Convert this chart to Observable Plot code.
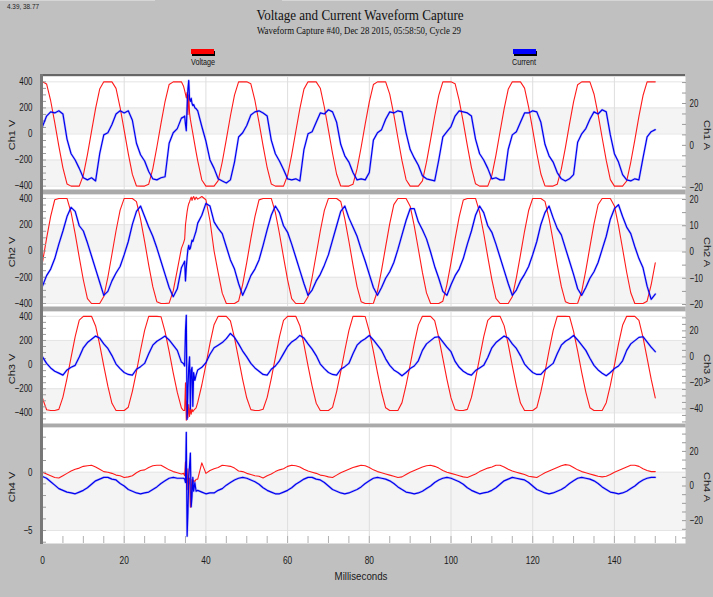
<!DOCTYPE html>
<html><head><meta charset="utf-8">
<script src="https://cdn.jsdelivr.net/npm/d3@7"></script>
<script src="https://cdn.jsdelivr.net/npm/@observablehq/plot@0.6"></script>
<style>
html,body{margin:0;padding:0;}
body{width:713px;height:597px;background:#c0c0c0;position:relative;overflow:hidden;font-family:"Liberation Sans",Arial,sans-serif;}
.abs{position:absolute;}
.txt{position:absolute;white-space:nowrap;line-height:1;}
svg{position:absolute;left:0;top:0;}
</style></head><body>
<script>
// ---------------- data ----------------
const ms = [0,1,2,3,4,5,6,7,8,9,10,11,12,13,14,15,16,17,18,19,20,21,22,23,24,25,26,27,28,29,30,31,32,33,34,35,36,37,38,39,40,41,42,43,44,45,46,47,48,49,50,51,52,53,54,55,56,57,58,59,60,61,62,63,64,65,66,67,68,69,70,71,72,73,74,75,76,77,78,79,80,81,82,83,84,85,86,87,88,89,90,91,92,93,94,95,96,97,98,99,100,101,102,103,104,105,106,107,108,109,110,111,112,113,114,115,116,117,118,119,120,121,122,123,124,125,126,127,128,129,130,131,132,133,134,135,136,137,138,139,140,141,142,143,144,145,146,147,148,149,150];
const burstMs = [34.5,34.8,35,35.2,35.4,35.6,35.8,36,36.2,36.4,36.6,36.8,37,37.3,37.6];

const v1 = [400,384,255,87,-93,-260,-383,-400,-400,-400,
-316,-158,20,197,345,400,400,400,350,203,
28,-151,-310,-399,-400,-400,-385,-267,-100,80,
249,380,400,400,400,305,147,-32,-206,-353,
-400,-400,-400,-358,-215,-42,138,298,400,400,
400,385,257,89,-92,-259,-383,-400,-400,-400,
-317,-160,19,195,344,400,400,400,351,205,
29,-150,-309,-399,-400,-400,-386,-268,-102,78,
247,379,400,400,400,306,148,-31,-205,-351,
-400,-400,-400,-360,-216,-44,136,296,400,400,
400,386,258,91,-90,-258,-382,-400,-400,-400,
-318,-162,17,193,343,400,400,400,352,206,
31,-148,-307,-398,-400,-400,-386,-270,-104,76,
246,378,400,400,400,307,150,-29,-203,-350,
-400,-400,-400,-361,-217,-45,135,295,400,400,
400];
const v1Burst = [369,333,305,277,320,150,300,160,112,76,40,4,-32,-86,-139];

const i1 = [9,14,16,15.5,16.5,15,3,-4,-7,-11,
-15.5,-16.5,-15.5,-17,-4,5,6,10,15,16.5,
15.5,16.5,12,1,-4.5,-7.5,-12.5,-16,-16.5,-15.5,
-15,1,6,8,13,9,22,19.5,16.5,9,
2,-7,-11,-16,-17,-18,-16.5,-8,4,6,
9.5,14.5,16,16.5,15.5,14,2.5,-4,-7.5,-11.5,
-16,-16.5,-16,-17,-2,5.5,6.5,11,15.5,15,
17,16,11,0.5,-5,-8,-13,-16.5,-16,-16.5,
-13,2.5,6,7.5,12.5,16,15.5,16.5,16,6,
-2,-6,-9.5,-14.5,-16,-16.5,-17,-7,4,6.5,
9,14,16.5,16,15.5,14,3,-4,-7,-11,
-16,-15.5,-16.5,-16.5,-2,5,6.5,11,15.5,15.5,
16.5,16,11,0.5,-5,-8,-13,-16,-17,-16,
-14,1.5,5.5,8,12.5,16,15,17,16,5,
-4,-8,-14,-16.5,-17,-16,-16.5,-6,4,6.5,
7.5];
const i1Burst = [13.5,14,10,7,19,27,31,22,21,22.5,20,19,19.5,18,17.5];

const v2 = [-85,96,263,390,400,400,400,293,131,-49,
-221,-363,-400,-400,-400,-347,-200,-25,154,311,
400,400,400,376,243,73,-107,-272,-387,-400,
-400,-397,-304,-144,20,200,375,415,395,415,
390,230,0,-165,-321,-400,-400,-400,-381,-254,
-86,94,262,389,400,400,400,294,133,-47,
-220,-362,-400,-400,-400,-348,-202,-27,152,309,
400,400,400,377,244,74,-106,-271,-386,-400,
-400,-398,-305,-146,33,208,353,400,400,400,
341,191,15,-163,-319,-400,-400,-400,-382,-256,
-88,92,260,388,400,400,400,296,135,-45,
-218,-361,-400,-400,-400,-349,-203,-29,150,308,
400,400,400,378,246,76,-104,-270,-386,-400,
-400,-398,-307,-148,31,206,352,400,400,400,
343,193,17,-162,-318,-400,-400,-400,-382,-257,
-90];
const v2Burst = [60,90,200,250,300,335,360,375,395,410,385,405,415,390,410];

const i2 = [-13,-9,-6.5,-2.5,3,8,13.5,17,15.5,10,
8,3.5,-1.5,-6.5,-11.5,-16.5,-15,-11,-8,-5.5,
-1,4,10.5,15.5,17.5,13.5,9.5,6,1.5,-3.5,
-8.5,-13.5,-17,-14,-6,-11,1,5,11,14,
18.5,17.5,11.5,9,7,2,-3,-6.5,-12,-16.5,
-13,-9,-6.5,-3,2.5,8.5,14,17.5,15,10,
7.5,3,-2,-7,-12,-16.5,-14.5,-11,-8.5,-5,
-1,4.5,10,15.5,17.5,13,9.5,6,1,-3.5,
-8.5,-13.5,-16.5,-13.5,-10,-7.5,-4,1,6.5,12,
16.5,16.5,11.5,8.5,5,0,-5.5,-10,-15,-16.5,
-12.5,-9,-6.5,-2.5,3,8,14,17.5,15,10,
7.5,3,-2,-7,-12,-16.5,-14.5,-11,-8.5,-5.5,
-1,4,10.5,15,17.5,13,9,6.5,1.5,-3.5,
-8.5,-14,-16.5,-13.5,-10,-7.5,-4,1,6,12.5,
16.5,18,13.5,9.5,7,2,-2.5,-6,-13,-18,
-16];
const i2Burst = [-4.5,-3.5,-11,-6,-2,1,2.5,1,1.5,3,4.5,4,5,6.5,8];

const v3 = [-278,-374,-380,-380,-371,-269,-114,60,232,369,
400,400,400,320,166,-11,-179,-321,-380,-380,
-380,-353,-221,-58,119,284,400,400,400,397,
274,109,-69,-231,-358,-150,-430,-380,-313,-169,
-1,176,331,400,400,400,362,222,49,-124,
-277,-373,-380,-380,-370,-271,-116,58,230,367,
400,400,400,322,167,-10,-178,-320,-380,-380,
-380,-354,-223,-60,117,282,400,400,400,398,
276,110,-67,-229,-358,-380,-380,-380,-315,-171,
-3,174,327,400,400,400,364,224,51,-122,
-276,-373,-380,-380,-371,-272,-117,56,229,367,
400,400,400,323,169,-9,-176,-319,-380,-380,
-380,-356,-224,-62,116,281,400,400,400,399,
276,112,-66,-228,-357,-380,-380,-380,-316,-173,
-5,172,326,400,400,400,366,226,53,-121,
-276];
const v3Burst = [-380,-380,-150,-460,-300,-440,-330,-430,-360,-410,-370,-390,-380,-369,-359];

const i3 = [0,-5,-8.5,-11,-12.5,-14,-10,-8,-6.5,0,
7,11,13.5,16,14.5,10,6.5,1,-5.5,-9,
-12,-13.5,-14,-9.5,-7.5,-5,2.5,9,12,14,
16,13,9,5,-4,20,0,-12,-10,-8,
-4.5,2,7,9,11,14,18,15,10,4.5,
0,-5,-8.5,-11,-13.5,-14,-9.5,-7,-3,2.5,
8,11.5,13.5,16.5,14.5,10,6,1,-5.5,-9,
-12,-13.5,-14,-9.5,-7.5,-5,2.5,9,12,14,
16.5,13,9,5,-1.5,-6.5,-10,-12,-14.5,-12,
-9,-7,-3,5,10,12.5,15,15.5,11.5,7.5,
4,-3.5,-8,-11,-13,-14,-10.5,-8.5,-6.5,-0.5,
7,11,13.5,16,14.5,10,6.5,1,-5.5,-9,
-12,-13.5,-13.5,-10,-7.5,-5,2.5,9,12,14,
16.5,13,9,5,-1,-6.5,-10,-12.5,-14.5,-12,
-9,-7,-3,5,10,12.5,15,15.5,11.5,7.5,
4];
const i3Burst = [-5,-7,20,32,-48,-25,-8,0,-40,-10,-8,-38,-12,-18,-14];

const v4 = [0,-0.15,-0.3,-0.45,-0.5,-0.3,-0.1,0.1,0.25,0.35,
0.5,0.55,0.6,0.45,0.25,0.05,0,-0.1,-0.25,-0.3,
-0.45,-0.4,-0.3,-0.05,0.15,0.2,0.4,0.55,0.6,0.6,
0.4,0.2,0.05,-0.05,-0.15,0.9,-0.5,-0.7,-0.6,0.8,
-0.1,0.15,0.3,0.4,0.6,0.55,0.5,0.35,0.1,0.05,
-0.1,-0.2,-0.3,-0.35,-0.5,-0.3,-0.15,0.05,0.2,0.3,
0.5,0.6,0.55,0.45,0.25,0.1,0,-0.1,-0.25,-0.3,
-0.4,-0.45,-0.25,-0.05,0.1,0.25,0.4,0.5,0.6,0.55,
0.4,0.2,0.05,-0.05,-0.15,-0.25,-0.35,-0.45,-0.4,-0.2,
0,0.15,0.3,0.45,0.55,0.6,0.5,0.35,0.15,0,
-0.1,-0.2,-0.3,-0.4,-0.45,-0.3,-0.15,0.05,0.2,0.35,
0.45,0.6,0.6,0.45,0.25,0.1,0,-0.1,-0.2,-0.35,
-0.4,-0.45,-0.25,-0.05,0.1,0.25,0.4,0.55,0.65,0.6,
0.4,0.2,0.05,-0.05,-0.15,-0.25,-0.35,-0.4,-0.35,-0.2,
0,0.15,0.3,0.45,0.6,0.6,0.5,0.3,0.15,0.05,
0.05];
const v4Burst = [-0.1,-0.3,0.9,-0.5,-1.5,0.3,-1.0,-0.5,-3.0,-1.5,-0.6,-0.9,-0.7,-0.8,-0.6];

const i4 = [5.5,4.5,2.5,0.5,-1.5,-2.5,-3.5,-4,-4.5,-3.5,
-2.5,-1,1,3,4,5,5,4,3.5,1.5,
0,-2,-3,-4,-4.5,-4,-3.5,-2,-0.5,1.5,
3,4.5,5,4.5,4.5,2,12,-3,-2.5,-3.5,
-4.5,-4,-4,-2.5,-1.5,0.5,2,3.5,4.5,5,
4.5,3.5,2.5,1,-1,-2.5,-3.5,-4.5,-4.5,-3.5,
-2.5,-1,1,2.5,4,5,5,4,3.5,2,
0,-2,-3,-4,-4.5,-4,-3,-2,-0.5,1.5,
3,4.5,5,4.5,4,3,1.5,-0.5,-2,-3.5,
-4,-4.5,-4,-3,-1.5,0,2,3.5,4.5,5,
4.5,3.5,2.5,1,-1,-2.5,-3.5,-4.5,-4,-3.5,
-2.5,-1,1,3,4,5,4.5,4,3.5,2,
0,-2,-3,-4,-4.5,-4,-3,-2,-0.5,1.5,
3,4.5,5,4.5,4,3,1.5,-0.5,-2,-3.5,
-4,-4.5,-4,-3,-1.5,0,2,3.5,4.5,5,
5];
const i4Burst = [4.5,4,2,31,-29,-15,5,12,19,-12,-6,5,-3,2,-3];

// tick labels
const voltTicks = [-400,-200,0,200,400];
const ch1AmpTicks = [-20,0,20];
const ch2AmpTicks = [-20,-10,0,10,20];
const ch3AmpTicks = [-40,-20,0,20];
const ch4VoltTicks = [-5,0];
const ch4AmpTicks = [-20,0,20];
const msTicks = [0,20,40,60,80,100,120,140];

const titleText = "Voltage and Current Waveform Capture";
const subtitleText = "Waveform Capture #40, Dec 28 2015, 05:58:50,  Cycle 29";
const cursorText = "4.39, 38.77";
const seriesNames = ["Voltage", "Current"];
const seriesColors = ["#ff0000", "#0000ff"];

// ---------------- build table ----------------
const series = {v1, i1, v2, i2, v3, i3, v4, i4};
const bursts = {v1: v1Burst, i1: i1Burst, v2: v2Burst, i2: i2Burst, v3: v3Burst, i3: i3Burst, v4: v4Burst, i4: i4Burst};
const rows = [];
ms.forEach((t, k) => {
  if (t < burstMs[0] || t > burstMs[burstMs.length - 1]) {
    const r = {t}; for (const key in series) r[key] = series[key][k]; rows.push(r);
  }
});
burstMs.forEach((t, k) => { const r = {t}; for (const key in bursts) r[key] = bursts[key][k]; rows.push(r); });
rows.sort((a, b) => a.t - b.t);

// ---------------- layout ----------------
const W = 713, ML = 42, MR = 28;
const xDomain = [0, 157.4];
const FONT = '"Liberation Sans", Arial, sans-serif';
const K = 0.76; // horizontal condensation of text in the reference

function txt(s, x, y, {size = 11, family = FONT, scale = 1, rotate = 0, color = "#1a1a1a", fit = null} = {}) {
  const d = document.createElement("div");
  d.className = "txt"; d.textContent = s;
  d.style.left = x + "px"; d.style.top = y + "px";
  d.style.fontSize = size + "px"; d.style.fontFamily = family; d.style.color = color;
  document.body.appendChild(d);
  const sc = fit ? fit / d.offsetWidth : scale;
  d.style.transform = `translate(-50%,-50%) scaleX(${sc}) rotate(${rotate}deg)`;
  return d;
}
function box(x, y, w, h, bg, extra = "") {
  const d = document.createElement("div");
  d.className = "abs";
  d.style.cssText = `left:${x}px;top:${y}px;width:${w}px;height:${h}px;background:${bg};${extra}`;
  document.body.appendChild(d);
}
function condense(svg) {
  svg.querySelectorAll("text").forEach(t => {
    const xa = t.getAttribute("x");
    let x = 0;
    if (xa !== null && /^-?[\d.]+$/.test(xa.trim())) { x = +xa; t.removeAttribute("x"); }
    const tr = t.getAttribute("transform") || "";
    t.setAttribute("transform", `${tr} translate(${x},0) scale(${K},1)`);
  });
}

const panels = [
  {top: 76, h: 113, v: "v1", a: "i1", vDomain: [-426, 441], aDomain: [-21.1, 32.9],
   vMajor: voltTicks, vMinor: d3.range(-400, 401, 50), aMajor: ch1AmpTicks, aMinor: d3.range(-20, 31, 5),
   bands: [[0, 200], [-400, -200]], vLabel: "Ch1 V", aLabel: "Ch1 A"},
  {top: 194, h: 112, v: "v2", a: "i2", vDomain: [-422.7, 430], aDomain: [-20.75, 21.9],
   vMajor: voltTicks, vMinor: d3.range(-400, 401, 50), aMajor: ch2AmpTicks, aMinor: d3.range(-20, 21, 5),
   bands: [[0, 200], [-400, -200]], vLabel: "Ch2 V", aLabel: "Ch2 A"},
  {top: 311, h: 112, v: "v3", a: "i3", vDomain: [-488, 440], aDomain: [-51.2, 34.9],
   vMajor: voltTicks, vMinor: d3.range(-450, 401, 50), aMajor: ch3AmpTicks, aMinor: d3.range(-50, 31, 5),
   bands: [[0, 200], [-400, -200]], vLabel: "Ch3 V", aLabel: "Ch3 A"},
  {top: 427, h: 116, v: "v4", a: "i4", vDomain: [-6.11, 3.83], aDomain: [-33.2, 33.8],
   vMajor: ch4VoltTicks, vMinor: d3.range(-6, 4, 1), aMajor: ch4AmpTicks, aMinor: d3.range(-30, 31, 5),
   bands: [[-5, 0]], vLabel: "Ch4 V", aLabel: "Ch4 A"}
];

// background decoration
box(0, 0, 155, 1, "#d6d6d6");
box(282, 0, 431, 1, "#d6d6d6");
box(40, 74, 645, 2, "#666666");
box(42, 189, 643, 5, "#aaaaaa");
box(42, 306, 643, 5, "#aaaaaa");
box(42, 423, 643, 4, "#aaaaaa");

panels.forEach((p, idx) => {
  const last = idx === panels.length - 1;
  const extra = last ? 45 : 0;
  const holder = document.createElement("div");
  holder.className = "abs";
  holder.style.cssText = `left:0;top:${p.top}px;width:${W}px;height:${p.h + extra}px;`;
  document.body.appendChild(holder);
  const base = {width: W, height: p.h + extra, marginLeft: ML, marginRight: MR, marginTop: 0, marginBottom: extra,
    style: {background: "transparent", overflow: "visible", fontFamily: FONT, fontSize: "10.5px", color: "#1a1a1a"}};
  const xMarks = last ? [
    Plot.axisX({anchor: "bottom", ticks: d3.range(5, 156, 5), tickSize: -7, tickFormat: () => "", stroke: "#b0b0b0", label: null}),
    Plot.axisX({anchor: "bottom", ticks: msTicks, tickSize: 0, tickPadding: 13, label: null, fontSize: 11})
  ] : [];
  const vPlot = Plot.plot({...base,
    x: last ? {domain: xDomain, label: null} : {domain: xDomain, axis: null},
    y: {domain: p.vDomain, label: null}, marks: [
    Plot.frame({fill: "#ffffff", stroke: "none"}),
    Plot.rect(p.bands, {x1: () => xDomain[0], x2: () => xDomain[1], y1: d => d[0], y2: d => d[1], fill: "#f4f4f4"}),
    Plot.ruleY(p.vMajor, {stroke: "#e4e4e4"}),
    Plot.ruleX(msTicks.slice(1), {stroke: "#dedede"}),
    Plot.line(rows, {x: "t", y: p.v, stroke: "#ff1a1a", strokeWidth: 1.1, clip: true}),
    Plot.axisY({anchor: "left", ticks: p.vMinor, tickSize: -4, tickFormat: () => "", stroke: "#9a9a9a", label: null}),
    Plot.axisY({anchor: "left", ticks: p.vMajor, tickSize: 0, tickPadding: 10, label: null, fontSize: 10.5}),
    ...xMarks
  ]});
  const aPlot = Plot.plot({...base, x: {domain: xDomain, axis: null}, y: {domain: p.aDomain, label: null}, marks: [
    Plot.line(rows, {x: "t", y: p.a, stroke: "#3030ff", strokeWidth: 2.4, strokeOpacity: 0.25, clip: true}),
    Plot.line(rows, {x: "t", y: p.a, stroke: "#0000f0", strokeWidth: 1.2, clip: true}),
    Plot.axisY({anchor: "right", ticks: p.aMinor, tickSize: -4, tickFormat: () => "", stroke: "#9a9a9a", label: null}),
    Plot.axisY({anchor: "right", ticks: p.aMajor, tickSize: 0, tickPadding: 4, label: null, fontSize: 10.5})
  ]});
  condense(vPlot); condense(aPlot);
  holder.appendChild(vPlot); holder.appendChild(aPlot);
  const cy = p.top + p.h / 2 + 2;
  txt(p.vLabel, 12, cy, {size: 11, rotate: -90, scale: 0.8});
  txt(p.aLabel, 707, cy, {size: 11, rotate: 90, scale: 0.8});
});

// left axis bar
box(40, 74, 3, 470, "#777777");

// titles
txt(cursorText, 23, 6, {size: 7, fit: 32, color: "#222"});
txt(titleText, 360, 15, {size: 15, family: '"Liberation Serif", "Times New Roman", serif', fit: 207, color: "#111"});
txt(subtitleText, 359, 31, {size: 10, family: '"Liberation Serif", "Times New Roman", serif', fit: 204, color: "#111"});

// legend
[[191, 203], [513, 524]].forEach(([x, cx], k) => {
  box(x, 49, 23, 5, seriesColors[k], "box-shadow:1px 2px 0 #000;");
  txt(seriesNames[k], cx, 62, {size: 9, fit: 24, color: "#111"});
});

txt("Milliseconds", 361, 576, {size: 11, fit: 53, color: "#1a1a1a"});
</script>
</body></html>
